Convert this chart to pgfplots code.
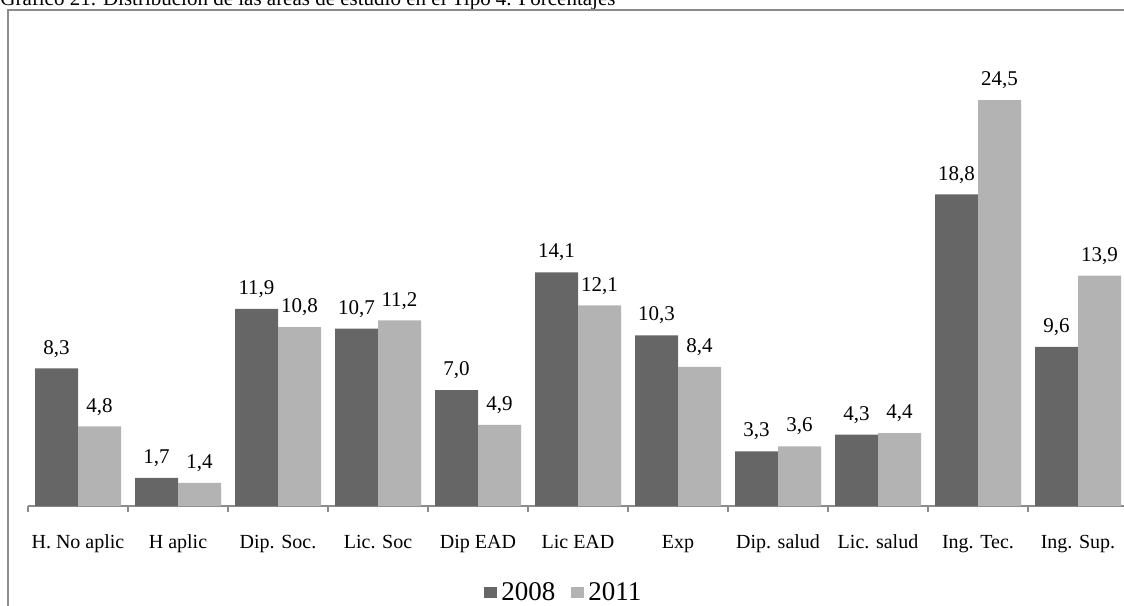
\documentclass[border=0pt]{standalone}
\usepackage{pgfplots}
\pgfplotsset{compat=1.18}
\usepackage{fontspec}
\setmainfont{Liberation Serif}
\definecolor{dark}{HTML}{666666}
\definecolor{light}{HTML}{B3B3B3}
\definecolor{frame}{HTML}{8C8C8C}
\begin{document}
\begin{tikzpicture}
\useasboundingbox (0,0) rectangle (562pt,-302.5pt);
\clip (0,0) rectangle (562pt,-302.5pt);
\node[anchor=base west,inner sep=0pt,font=\fontsize{10.5}{12}\selectfont] at (0pt,-2.6pt) {Gráfico 21. Distribución de las áreas de estudio en el Tipo 4. Porcentajes};
\draw[frame,line width=0.8pt] (4pt,-320pt) -- (4pt,-5pt) -- (600pt,-5pt);
\begin{axis}[
  at={(14pt,-253pt)}, anchor=south west,
  scale only axis, width=550pt, height=232pt,
  ybar=0pt, bar width=21.5pt,
  xmin=-0.5, xmax=10.5, ymin=0, ymax=28,
  axis x line*=bottom, axis y line=none,
  x axis line style={frame,line width=0.6pt,-},
  xtick={0,...,10},
  xticklabels={H.~No aplic,H aplic,Dip. Soc.,Lic. Soc,Dip EAD,Lic EAD,Exp,Dip. salud,Lic. salud,Ing. Tec.,Ing. Sup.},
  major tick length=0pt,
  minor xtick={-0.5,0.5,...,10.5},
  minor tick length=3pt,
  tick align=outside,
  minor tick style={frame,line width=0.6pt},
  xticklabel style={font=\fontsize{10}{12}\selectfont, yshift=-11pt},
  nodes near coords,
  every node near coord/.append style={font=\fontsize{10.5}{12}\selectfont, anchor=base, yshift=7.2pt, inner sep=0pt},
  /pgf/number format/.cd, fixed, fixed zerofill, precision=1, use comma, assume math mode=true,
  /pgfplots/.cd,
  legend style={at={(axis description cs:0.488,-0.1875)}, anchor=center, draw=none, legend columns=2, font=\fontsize{13.5}{15}\selectfont, /tikz/every even column/.append style={column sep=6pt}},
  legend image code/.code={\fill[#1,draw=none] (0pt,-2.5pt) rectangle (6.5pt,3pt);},
]
\addplot[fill=dark,draw=none] coordinates {(0,8.3) (1,1.7) (2,11.9) (3,10.7) (4,7.0) (5,14.1) (6,10.3) (7,3.3) (8,4.3) (9,18.8) (10,9.6)};
\addplot[fill=light,draw=none] coordinates {(0,4.8) (1,1.4) (2,10.8) (3,11.2) (4,4.9) (5,12.1) (6,8.4) (7,3.6) (8,4.4) (9,24.5) (10,13.9)};
\legend{2008,2011}
\end{axis}
\end{tikzpicture}
\end{document}
